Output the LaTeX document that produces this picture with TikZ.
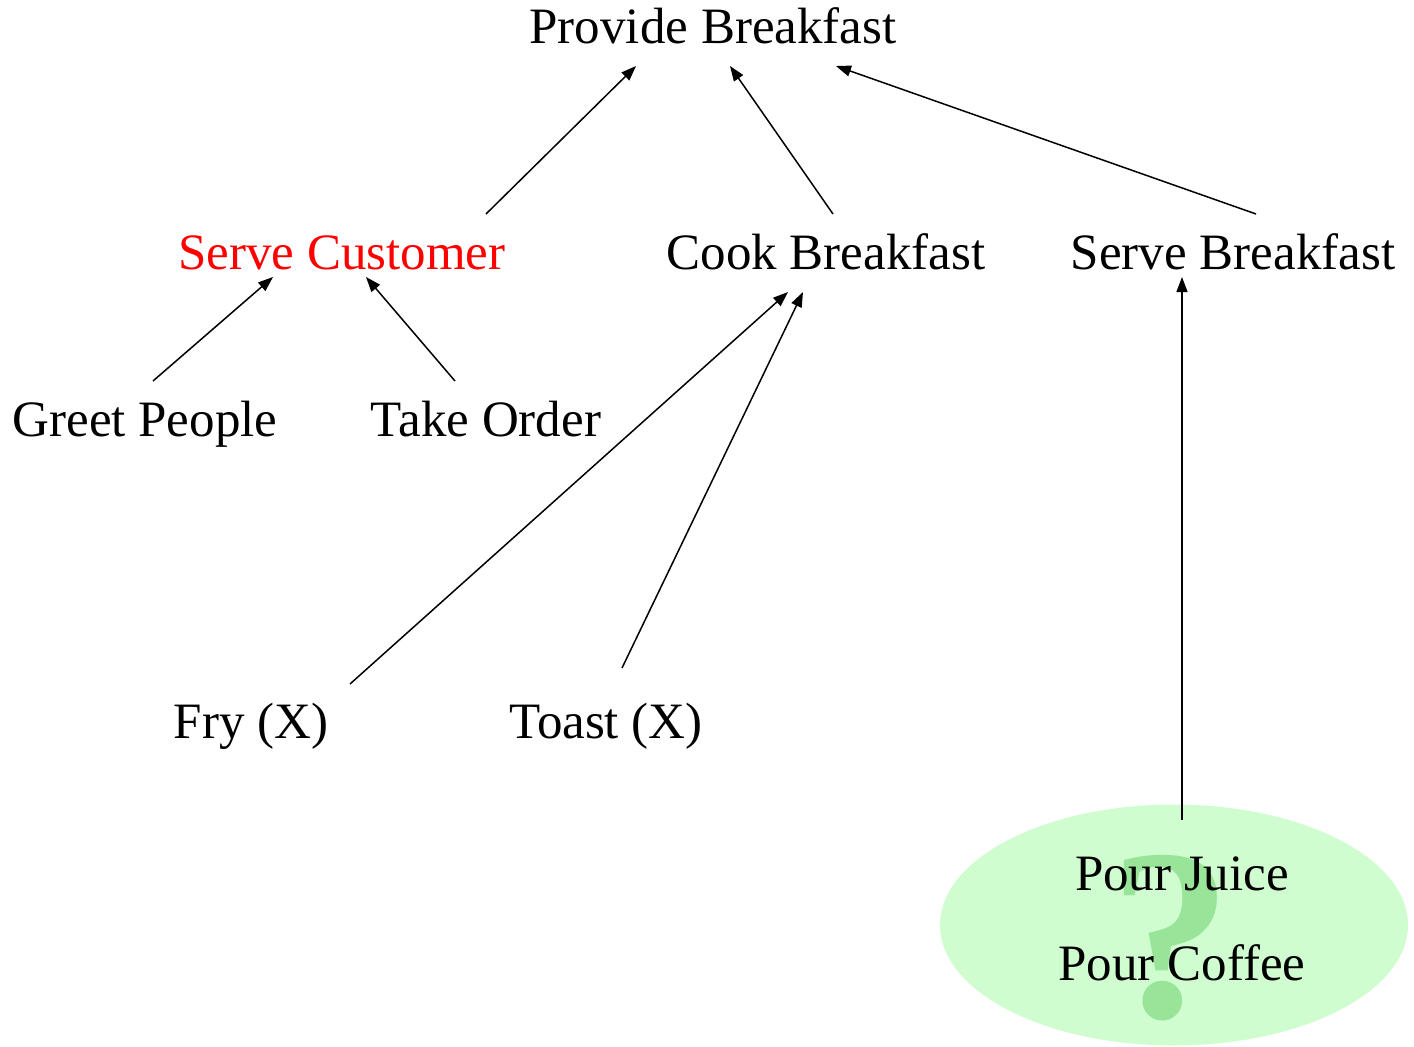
\documentclass[tikz,border=0pt]{standalone}
\usepackage{fontspec}
\setmainfont{Liberation Serif}
\usetikzlibrary{arrows.meta,calc,shapes.geometric}
\definecolor{bubble}{HTML}{D0FDD0}
\definecolor{qmark}{HTML}{98E498}
\begin{document}
\begin{tikzpicture}[x=1pt,y=-1pt,
  lbl/.style={anchor=base,inner sep=0pt,font=\fontsize{51}{55}\selectfont},
  arr/.style={-{Triangle[length=15pt,width=11pt]},line width=1.5pt}]
\useasboundingbox (0,0) rectangle (1414,1047);

% goal tree
\node[lbl] (pb) at (713,43) {Provide Breakfast};
\node[lbl,text=red] (sc) at (342,269) {Serve Customer};
\node[lbl] (cb) at (826,269) {Cook Breakfast};
\node[lbl] (sb) at (1233,269) {Serve Breakfast};
\node[lbl] (gp) at (145,436) {Greet People};
\node[lbl] (to) at (486,436) {Take Order};
\node[lbl] (fry) at (251,738) {Fry (X)};
\node[lbl] (toast) at (606,738) {Toast (X)};

% open question bubble
\node[ellipse,fill=bubble,minimum width=468pt,minimum height=241pt,inner sep=0pt] (bubble) at (1174,925) {};
\node[anchor=base,inner sep=0pt,text=qmark,font=\fontsize{245}{245}\selectfont\bfseries] (q) at (1171,1017) {?};
\node[lbl] (juice) at (1182,890) {Pour Juice};
\node[lbl] (coffee) at (1182,980) {Pour Coffee};

% links
\draw[arr] ($(sc.base)+(144,-55)$) -- ($(pb.base)+(-77,23)$);
\draw[arr] ($(cb.base)+(7,-55)$) -- ($(pb.base)+(17,23)$);
\draw[arr] ($(sb.base)+(23,-55)$) -- ($(pb.base)+(123,23)$);
\draw[arr] ($(gp.base)+(8,-55)$) -- ($(sc.base)+(-69,8)$);
\draw[arr] ($(to.base)+(-31,-55)$) -- ($(sc.base)+(24,8)$);
\draw[arr] ($(fry.base)+(99,-54)$) -- ($(cb.base)+(-38,23)$);
\draw[arr] ($(toast.base)+(16,-70)$) -- ($(cb.base)+(-23,23)$);
\draw[arr] ($(bubble.center)+(8,-105)$) -- ($(sb.base)+(-51,8)$);
\end{tikzpicture}
\end{document}
